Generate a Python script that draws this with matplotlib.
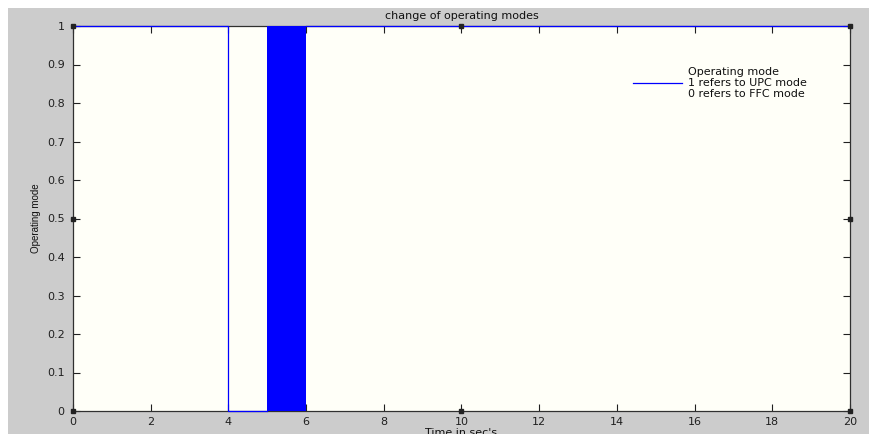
"""Operating mode switching (UPC / FFC) over time, MATLAB-style figure."""

import matplotlib
matplotlib.use("Agg")
import matplotlib.pyplot as plt
from matplotlib import font_manager
from matplotlib.patches import Rectangle

# Mode signal: 1 = UPC, 0 = FFC (step corners)
step_t = [0, 4, 4, 5]
step_mode = [1, 1, 0, 0]
# Fast switching between the two modes in this window
chatter_t = [5, 6]
chatter_lo = [0, 0]
chatter_hi = [1, 1]
# Back to UPC afterwards
tail_t = [6, 20]
tail_mode = [1, 1]

x_ticks = list(range(0, 21, 2))
y_ticks = [0, 0.1, 0.2, 0.3, 0.4, 0.5, 0.6, 0.7, 0.8, 0.9, 1]
y_ticklabels = ["0", "0.1", "0.2", "0.3", "0.4", "0.5", "0.6", "0.7", "0.8", "0.9", "1"]

plt.rcParams["font.family"] = ["DejaVu Sans"]

# narrow font for the y label if we have one
installed = {f.name for f in font_manager.fontManager.ttflist}
if "Liberation Sans Narrow" in installed:
    ylab_family, ylab_size = "Liberation Sans Narrow", 9
elif "DejaVu Sans Condensed" in installed:
    ylab_family, ylab_size = "DejaVu Sans Condensed", 7
else:
    ylab_family, ylab_size = "Liberation Sans", 7

W, H = 870, 434
fig = plt.figure(figsize=(W / 100, H / 100), dpi=100, facecolor="white")

# Gray window background (white strip at top and left)
fig.patches.append(Rectangle((8 / W, 0), 1, 1 - 8 / H, transform=fig.transFigure,
                             facecolor="#cccccc", edgecolor="none", zorder=-10))

ax_l, ax_r, ax_t, ax_b = 73, 850, 26, 411
ax = fig.add_axes([ax_l / W, 1 - ax_b / H, (ax_r - ax_l) / W, (ax_b - ax_t) / H])
ax.set_facecolor("#fffff8")

blue = "#0000ff"
ax.plot(step_t, step_mode, color=blue, lw=0.9, zorder=5, clip_on=False,
        label="Operating mode\n1 refers to UPC mode\n0 refers to FFC mode")
ax.fill_between(chatter_t, chatter_lo, chatter_hi, color=blue, lw=0, zorder=4)
ax.plot(tail_t, tail_mode, color=blue, lw=0.9, zorder=5, clip_on=False)

ax.set_xlim(0, 20)
ax.set_ylim(0, 1)
ax.set_xticks(x_ticks)
ax.set_yticks(y_ticks)
ax.set_yticklabels(y_ticklabels)
ax.tick_params(direction="in", length=5, width=0.8, top=True, right=True,
               labelsize=8, colors="#202020")
ax.tick_params(axis="y", pad=6)
ax.tick_params(axis="x", pad=4)
for s in ax.spines.values():
    s.set_color("#303030")
    s.set_linewidth(0.9)

ax.set_title("change of operating modes", fontsize=8, pad=5, color="#101010")
ax.set_xlabel("Time in sec's", fontsize=8, labelpad=1, color="#101010")
ax.set_ylabel("Operating mode", fontsize=ylab_size, labelpad=4, color="#101010",
              family=ylab_family)

leg = ax.legend(loc="center left", bbox_to_anchor=(0.721, 0.852), frameon=False,
                fontsize=8, handlelength=4.4, handletextpad=0.5, borderpad=0,
                borderaxespad=0)
for t in leg.get_texts():
    t.set_color("#101010")
    t.set_linespacing(1.1)

# Plot-edit selection handles
for hx, hy in [(0, 1), (0.5, 1), (1, 1), (0, 0.5), (1, 0.5), (0, 0), (0.5, 0), (1, 0)]:
    ax.plot(hx, hy, "s", ms=3.5, color="#222222", mec="#222222",
            transform=ax.transAxes, clip_on=False, zorder=10)

fig.savefig("out.png", dpi=100, facecolor=fig.get_facecolor())
